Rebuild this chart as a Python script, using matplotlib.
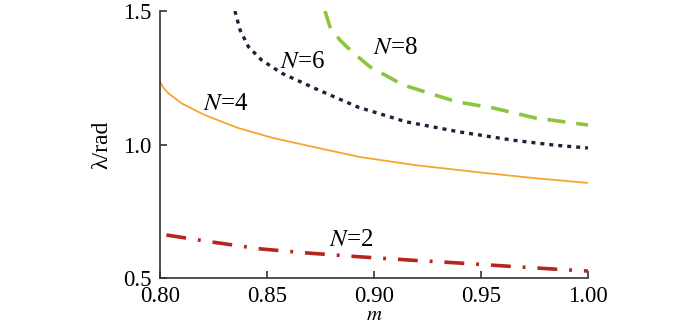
import matplotlib
matplotlib.use('Agg')
import matplotlib.pyplot as plt

# values: m on x, lambda (rad) on y
m_n2 = [0.803, 0.825, 0.847, 0.870, 0.894, 0.917, 0.940, 0.965, 0.985, 1.000]
lam_n2 = [0.661, 0.634, 0.609, 0.593, 0.579, 0.567, 0.556, 0.543, 0.533, 0.526]

m_n4 = [0.800, 0.8015, 0.8039, 0.8101, 0.821, 0.8364, 0.853, 0.875, 0.8935, 0.920, 0.950, 0.975, 1.000]
lam_n4 = [1.235, 1.213, 1.192, 1.154, 1.110, 1.062, 1.024, 0.985, 0.953, 0.922, 0.895, 0.874, 0.856]

m_n6 = [0.835, 0.8374, 0.8413, 0.8475, 0.8569, 0.8724, 0.8925, 0.915, 0.940, 0.965, 0.985, 1.000]
lam_n6 = [1.500, 1.429, 1.366, 1.316, 1.267, 1.210, 1.140, 1.085, 1.047, 1.016, 0.997, 0.987]

m_n8 = [0.8771, 0.8794, 0.8841, 0.8896, 0.8981, 0.9136, 0.9386, 0.9556, 0.975, 1.000]
lam_n8 = [1.500, 1.441, 1.391, 1.348, 1.291, 1.223, 1.160, 1.137, 1.100, 1.073]

x_ticks = [0.80, 0.85, 0.90, 0.95, 1.00]
y_ticks = [0.5, 1.0, 1.5]

plt.rcParams['font.family'] = ['Liberation Serif', 'DejaVu Serif']
plt.rcParams['mathtext.fontset'] = 'stix'

fig = plt.figure(figsize=(7, 3.27), dpi=100)
ax = fig.add_axes([0.2286, 0.1498, 0.6114, 0.8166])

ax.plot(m_n2, lam_n2, color='#b5261e', lw=2.6, dashes=(5.5, 3.3, 0.8, 3.3))
ax.plot(m_n4, lam_n4, color='#f6a630', lw=1.3)
ax.plot(m_n6, lam_n6, color='#2b1b3b', lw=2.4, dashes=(1.2, 1.5))
ax.plot(m_n8, lam_n8, color='#8cc540', lw=2.6, dashes=(5, 3))

# curve labels
lab_kw = dict(fontsize=18, ha='center', va='center')
ax.text(0.8306, 1.15, r'$N$=4', **lab_kw)
ax.text(0.8664, 1.31, r'$N$=6', **lab_kw)
ax.text(0.9098, 1.36, r'$N$=8', **lab_kw)
ax.text(0.8893, 0.642, r'$N$=2', **lab_kw)

ax.set_xlim(0.80, 1.00)
ax.set_ylim(0.5, 1.5)
ax.set_xticks(x_ticks)
ax.set_yticks(y_ticks)
ax.set_xticklabels(['%.2f' % v for v in x_ticks])
ax.set_yticklabels(['%.1f' % v for v in y_ticks])

for side in ['top', 'right']:
    ax.spines[side].set_visible(False)
for side in ['left', 'bottom']:
    ax.spines[side].set_color('#333333')
    ax.spines[side].set_linewidth(1.2)

ax.tick_params(direction='in', length=5, width=1.2, color='#333333', labelsize=16.5)
ax.tick_params(axis='x', pad=6)
ax.tick_params(axis='y', pad=6)

ax.set_xlabel(r'$m$', fontsize=15, labelpad=-1)
ax.set_ylabel('λ/rad', fontsize=17, labelpad=8)

fig.savefig('out.png', dpi=100)
